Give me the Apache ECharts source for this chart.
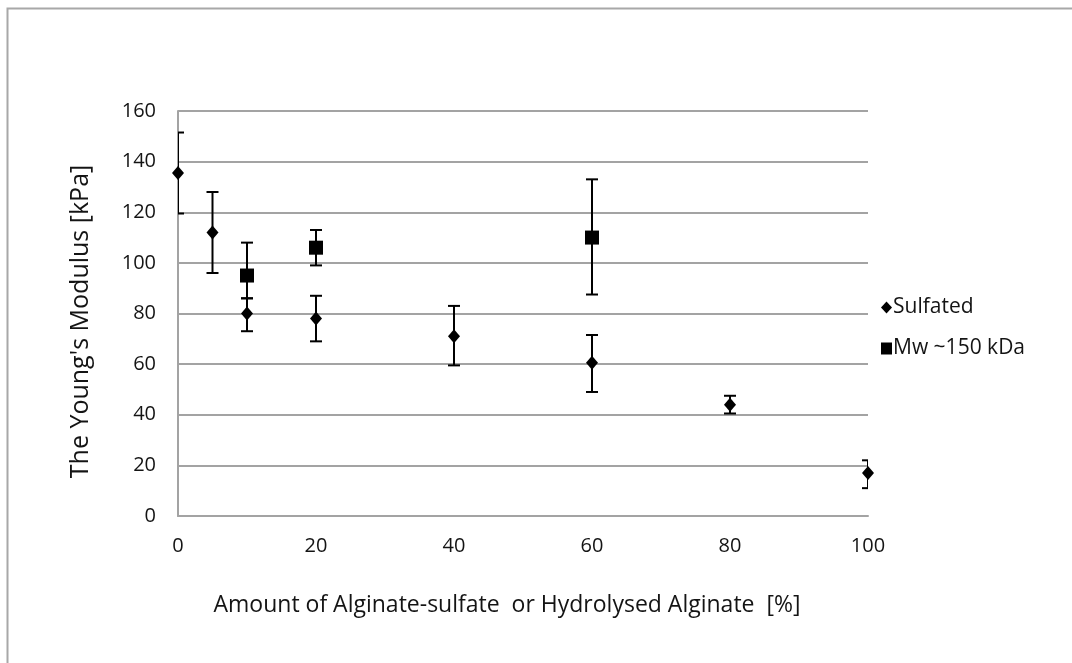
<!DOCTYPE html>
<html>
<head>
<meta charset="utf-8">
<script src="https://cdn.jsdelivr.net/npm/echarts@6/dist/echarts.min.js"></script>
<style>
html,body{margin:0;padding:0;background:#fff;}
#chart{width:1072px;height:663px;}
</style>
</head>
<body>
<div id="chart"></div>
<script>
// ---- data ----
const sulfatedX = [0, 5, 10, 20, 40, 60, 80, 100];
const sulfatedY = [135.5, 112, 80, 78, 71, 60.5, 44, 17];
const sulfatedLow = [119.5, 96, 73, 69, 59.5, 49, 40.5, 11];
const sulfatedHigh = [151.5, 128, 86, 87, 83, 71.5, 47.5, 22];

const mwX = [10, 20, 60];
const mwY = [95, 106, 110];
const mwLow = [86, 99, 87.5];
const mwHigh = [108, 113, 133];

const xTicks = [0, 20, 40, 60, 80, 100];
const yTicks = [0, 20, 40, 60, 80, 100, 120, 140, 160];

const seriesNames = ['Sulfated', 'Mw ~150 kDa'];
const xTitle = 'Amount of Alginate-sulfate  or Hydrolysed Alginate  [%]';
const yTitle = "The Young's Modulus [kPa]";

// ---- chart ----
const FONT = 'Open Sans';
const TXT = '#141414';
const GRID = '#a3a3a3';

function zip(xs, ys) { return xs.map((x, i) => [x, ys[i]]); }
function zip3(xs, lo, hi) { return xs.map((x, i) => [x, lo[i], hi[i]]); }

function errRender(params, api) {
  const x = api.value(0), lo = api.value(1), hi = api.value(2);
  const a = api.coord([x, hi]);
  const b = api.coord([x, lo]);
  const hw = 6;
  const st = { stroke: '#000', lineWidth: 2 };
  return {
    type: 'group',
    children: [
      { type: 'line', shape: { x1: a[0], y1: a[1], x2: b[0], y2: b[1] }, style: st },
      { type: 'line', shape: { x1: a[0] - hw, y1: a[1], x2: a[0] + hw, y2: a[1] }, style: st },
      { type: 'line', shape: { x1: b[0] - hw, y1: b[1], x2: b[0] + hw, y2: b[1] }, style: st }
    ]
  };
}

const chart = echarts.init(document.getElementById('chart'), null, { renderer: 'canvas' });
chart.setOption({
  animation: false,
  backgroundColor: '#fff',
  textStyle: { fontFamily: FONT, color: TXT },
  graphic: [{
    type: 'rect', left: 5, top: 6, z: -10,
    shape: { width: 1100, height: 700 },
    style: { fill: 'none', stroke: '#a8a8a8', lineWidth: 2 }
  }],
  grid: { left: 178, right: 204, top: 111, bottom: 147, containLabel: false },
  legend: {
    orient: 'vertical',
    left: 876, top: 292,
    itemGap: 20, itemWidth: 11, itemHeight: 12,
    textStyle: { fontFamily: FONT, fontSize: 21, color: TXT, padding: [0, 0, 0, -4] },
    data: [
      { name: seriesNames[0], icon: 'diamond', itemStyle: { color: '#000', opacity: 1 } },
      { name: seriesNames[1], icon: 'rect', itemStyle: { color: '#000', opacity: 1 } }
    ]
  },
  xAxis: {
    type: 'value', min: 0, max: 100, interval: 20,
    axisLine: { show: true, lineStyle: { color: GRID, width: 2 } },
    axisTick: { show: false },
    splitLine: { show: false },
    axisLabel: { fontFamily: FONT, fontSize: 20, color: TXT, margin: 20,
      formatter: v => xTicks.includes(v) ? String(v) : '' },
    name: xTitle, nameLocation: 'middle', nameGap: 78,
    nameTextStyle: { fontFamily: FONT, fontSize: 23, color: TXT, padding: [0, 32, 0, 0] }
  },
  yAxis: {
    type: 'value', min: 0, max: 160, interval: 20,
    axisLine: { show: true, onZero: false, lineStyle: { color: GRID, width: 2 } },
    axisTick: { show: false },
    splitLine: { show: true, lineStyle: { color: GRID, width: 2 } },
    axisLabel: { fontFamily: FONT, fontSize: 20, color: TXT, margin: 22,
      formatter: v => yTicks.includes(v) ? String(v) : '' },
    name: yTitle, nameLocation: 'middle', nameGap: 85, nameRotate: 90,
    nameTextStyle: { fontFamily: FONT, fontSize: 25, color: TXT, padding: [0, 16, 0, 0] }
  },
  series: [
    {
      name: seriesNames[0] + ' err', type: 'custom', clip: true, z: 3,
      renderItem: errRender, data: zip3(sulfatedX, sulfatedLow, sulfatedHigh),
      encode: { x: 0, y: [1, 2] }, silent: true
    },
    {
      name: seriesNames[1] + ' err', type: 'custom', clip: true, z: 3,
      renderItem: errRender, data: zip3(mwX, mwLow, mwHigh),
      encode: { x: 0, y: [1, 2] }, silent: true
    },
    {
      name: seriesNames[0], type: 'scatter', symbol: 'diamond', symbolSize: [12, 14],
      itemStyle: { color: '#000', opacity: 1 }, clip: false, z: 5,
      data: zip(sulfatedX, sulfatedY)
    },
    {
      name: seriesNames[1], type: 'scatter', symbol: 'rect', symbolSize: 14,
      itemStyle: { color: '#000', opacity: 1 }, clip: false, z: 5,
      data: zip(mwX, mwY)
    }
  ]
});
</script>
</body>
</html>
